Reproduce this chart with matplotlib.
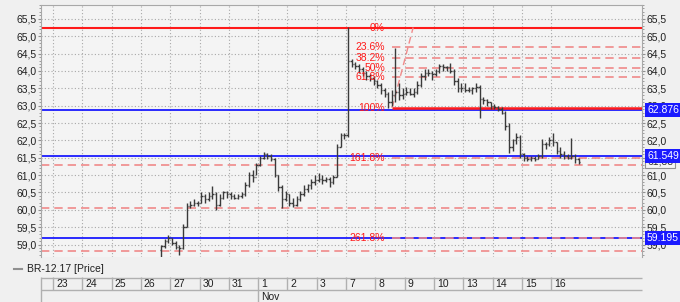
import matplotlib
matplotlib.use('Agg')
import matplotlib.pyplot as plt
import matplotlib.transforms as mtransforms
from matplotlib.lines import Line2D
from matplotlib.ticker import MultipleLocator, FuncFormatter
import numpy as np

# trading days on the time axis
days = ['23', '24', '25', '26', '27', '30', '31', '1', '2', '3',
        '7', '8', '9', '10', '13', '14', '15', '16']
month_start = 7          # index of "1" (Nov)
bars_per_day = 8
first_slot = 3 * 8 + 5   # first bar is late on the 26th

first_open = 58.85
highs = [59.0, 59.15, 59.27,
         59.2, 59.1, 58.98, 59.6, 60.2, 60.25, 60.3, 60.25,
         60.5, 60.45, 60.5, 60.68, 60.5, 60.45, 60.55, 60.55,
         60.5, 60.45, 60.45, 60.5, 60.8, 61.1, 61.15, 61.35,
         61.55, 61.67, 61.65, 61.6, 61.5, 61.0, 60.7, 60.55,
         60.45, 60.35, 60.4, 60.55, 60.7, 60.75, 60.9, 61.0,
         61.05, 61.0, 60.95, 60.95, 61.0, 61.9, 62.2, 62.2,
         65.28, 64.35, 64.25, 64.2, 64.1, 64.0, 63.9, 63.85,
         63.75, 63.65, 63.5, 63.4, 63.45, 64.66, 63.65, 63.5,
         63.55, 63.5, 63.5, 63.7, 63.95, 64.05, 64.05, 64.0,
         64.05, 64.2, 64.2, 64.15, 64.23, 64.05, 63.8, 63.65,
         63.65, 63.55, 63.55, 63.65, 63.6, 63.25, 63.2, 63.1,
         63.05, 63.0, 62.95, 62.85, 62.5, 62.05, 62.2, 62.15,
         61.65, 61.55, 61.55, 61.55, 61.6, 62.05, 61.95, 62.1,
         62.2, 61.95, 61.8, 61.7, 61.6, 62.07, 61.6, 61.5]
lows = [58.4, 58.9, 59.05,
        59.0, 58.88, 58.7, 58.88, 59.5, 60.05, 60.1, 60.1,
        60.2, 60.2, 60.25, 60.3, 60.0, 60.1, 60.3, 60.35,
        60.3, 60.3, 60.3, 60.35, 60.4, 60.65, 60.8, 61.0,
        61.25, 61.45, 61.45, 61.4, 60.95, 60.55, 60.05, 60.25,
        60.1, 60.08, 60.1, 60.25, 60.4, 60.5, 60.6, 60.7,
        60.8, 60.75, 60.8, 60.65, 60.75, 60.95, 61.8, 62.05,
        62.1, 64.1, 64.05, 63.95, 63.85, 63.75, 63.7, 63.6,
        63.5, 63.35, 63.25, 62.93, 63.0, 63.1, 63.15, 63.2,
        63.3, 63.3, 63.25, 63.35, 63.55, 63.75, 63.85, 63.73,
        63.85, 63.95, 64.0, 64.0, 63.95, 63.6, 63.4, 63.4,
        63.4, 63.4, 63.35, 63.4, 62.65, 63.05, 63.0, 62.9,
        62.9, 62.85, 62.75, 62.3, 61.65, 61.7, 61.9, 61.5,
        61.4, 61.4, 61.4, 61.4, 61.45, 61.5, 61.75, 61.85,
        61.85, 61.6, 61.5, 61.45, 61.45, 61.45, 61.35, 61.33]
closes = [58.95, 59.1, 59.2,
          59.05, 58.93, 58.9, 59.5, 60.1, 60.15, 60.2, 60.2,
          60.4, 60.3, 60.4, 60.45, 60.15, 60.35, 60.5, 60.45,
          60.4, 60.35, 60.4, 60.45, 60.7, 61.0, 60.95, 61.3,
          61.5, 61.6, 61.55, 61.45, 61.0, 60.65, 60.3, 60.45,
          60.2, 60.15, 60.3, 60.45, 60.6, 60.7, 60.8, 60.85,
          60.9, 60.85, 60.9, 60.8, 60.95, 61.8, 62.15, 62.15,
          64.3, 64.2, 64.15, 64.05, 63.95, 63.85, 63.8, 63.7,
          63.6, 63.45, 63.35, 63.1, 63.3, 63.4, 63.3, 63.35,
          63.4, 63.35, 63.4, 63.6, 63.85, 63.95, 63.95, 63.9,
          64.0, 64.15, 64.1, 64.1, 64.0, 63.7, 63.5, 63.5,
          63.45, 63.45, 63.5, 63.55, 63.2, 63.15, 63.1, 63.0,
          62.95, 62.9, 62.8, 62.4, 61.8, 62.0, 62.1, 61.6,
          61.5, 61.45, 61.5, 61.45, 61.55, 61.9, 61.9, 62.0,
          61.95, 61.7, 61.6, 61.55, 61.5, 61.55, 61.45, 61.38]

# fibonacci tool
fib_high = 65.25
fib_low = 62.93
fib_ratios = [0, 23.6, 38.2, 50, 61.8, 100, 161.8, 261.8]
fib_labels = ['0%', '23.6%', '38.2%', '50%', '61.8%', '100%', '161.8%', '261.8%']
fib_start = 11.57
fib_top_x = 12.29

blue_levels = [62.876, 61.549, 59.195]
blue_labels = ['62.876', '61.549', '59.195']
dashed_levels = [61.29, 60.04, 58.82]
last_price = 61.38

red = '#ff1a1a'
pink = '#f08a8a'
blue = '#1a1aff'

plt.rcParams['font.family'] = ['Liberation Sans', 'DejaVu Sans']
plt.rcParams['font.size'] = 7.5

fig = plt.figure(figsize=(6.8, 3.02), dpi=100, facecolor='#f0f0f0')
ax = fig.add_axes([41/680, 1-257/302, 601/680, 252/302])
ax.set_facecolor('#f4f4f4')
ax.set_xlim(-0.41, 20.1)
ax.set_ylim(58.64, 65.90)

# grid
for i in range(len(days)):
    ax.axvline(i, color='#a8a8a8', lw=0.8, ls=(0, (1, 2)), zorder=0)
ax.yaxis.set_major_locator(MultipleLocator(0.5))
ax.yaxis.set_minor_locator(MultipleLocator(0.1))
ax.yaxis.set_major_formatter(FuncFormatter(lambda v, p: f'{v:.1f}'.replace('.', ',')))
ax.grid(True, axis='y', color='#a8a8a8', lw=0.8, ls=(0, (1, 2)), zorder=0)
ax.set_xticks([])
ax.tick_params(axis='y', which='both', left=True, right=True,
               labelleft=True, labelright=True, colors='#909090',
               labelcolor='#202020', labelsize=7.5)
ax.tick_params(axis='y', which='major', length=2, pad=1)
ax.tick_params(axis='y', which='minor', length=1.5)
for s in ax.spines.values():
    s.set_color('#a8a8a8')
    s.set_linewidth(0.8)
ax.spines['bottom'].set_visible(False)

# price bars
n = len(closes)
xs = (first_slot + np.arange(n) + 0.5) / bars_per_day
opens = [first_open] + closes[:-1]
ax.vlines(xs, lows, highs, color='#3a3a3a', lw=1.0, zorder=3)
ax.hlines(opens, xs - 0.05, xs, color='#3a3a3a', lw=1.0, zorder=3)
ax.hlines(closes, xs, xs + 0.05, color='#3a3a3a', lw=1.0, zorder=3)

# horizontal lines
for lv in dashed_levels:
    ax.axhline(lv, color=pink, lw=1.2, ls=(0, (5, 3)), zorder=2)
for lv in blue_levels:
    ax.axhline(lv, color=blue, lw=1.3, zorder=2)

x_right = ax.get_xlim()[1]
for r, lab in zip(fib_ratios, fib_labels):
    lv = fib_high - r / 100 * (fib_high - fib_low)
    if r == 0:
        ax.axhline(lv, color=red, lw=1.5, zorder=2)
    elif r == 100:
        ax.hlines(lv, fib_start, x_right, color=red, lw=1.8, zorder=2)
    else:
        ax.hlines(lv, fib_start, x_right, color=pink, lw=1.2, ls=(0, (5, 3)), zorder=2)
    ax.text(fib_start - 0.24, lv, lab, ha='right', va='center', color=red,
            fontsize=7.5, zorder=4)
ax.plot([fib_start, fib_top_x], [fib_low, fib_high], color=pink, lw=1.0,
        ls=(0, (5, 3)), zorder=2)

# right side value boxes
trans = mtransforms.blended_transform_factory(ax.transAxes, ax.transData)
ax.text(1 + 5/601, last_price, f'{last_price:.2f}'.replace('.', ','), transform=trans,
        va='center', ha='left', color='#303030', fontsize=7.5, clip_on=False, zorder=9,
        bbox=dict(boxstyle='square,pad=0.15', fc='#f4f4f4', ec='#909090', lw=0.8))
for lv, lab in zip(blue_levels, blue_labels):
    ax.text(1 + 5/601, lv, lab, transform=trans, va='center', ha='left',
            color='white', fontsize=7.5, clip_on=False, zorder=10,
            bbox=dict(boxstyle='square,pad=0.2', fc=blue, ec='none'))

# date strip
axd = fig.add_axes([41/680, 0, 601/680, 25/302])
axd.set_xlim(ax.get_xlim())
axd.set_ylim(0, 25)
axd.axis('off')
x0, x1 = axd.get_xlim()
axd.hlines([24.5, 12], x0, x1, color='#b0b0b0', lw=1.0, clip_on=False)
axd.vlines(x0 + 0.01, 0, 25, color='#b0b0b0', lw=1.0, clip_on=False)
for i, d in enumerate(days):
    axd.vlines(i, 12, 25, color='#b0b0b0', lw=1.0)
    axd.text(i + 0.1, 18.3, d, ha='left', va='center', color='#202020', fontsize=7.5)
axd.vlines(month_start, 0, 12, color='#b0b0b0', lw=1.0)
axd.text(month_start + 0.1, 5.5, 'Nov', ha='left', va='center', color='#202020', fontsize=7.5)

# legend
fig.add_artist(Line2D([14/680, 22/680], [1-269/302]*2, transform=fig.transFigure,
                      color='#909090', lw=1.5))
fig.text(27/680, 1-269/302, 'BR-12.17 [Price]', ha='left', va='center',
         color='#202020', fontsize=7.5)

fig.savefig('out.png', dpi=100, facecolor=fig.get_facecolor())
